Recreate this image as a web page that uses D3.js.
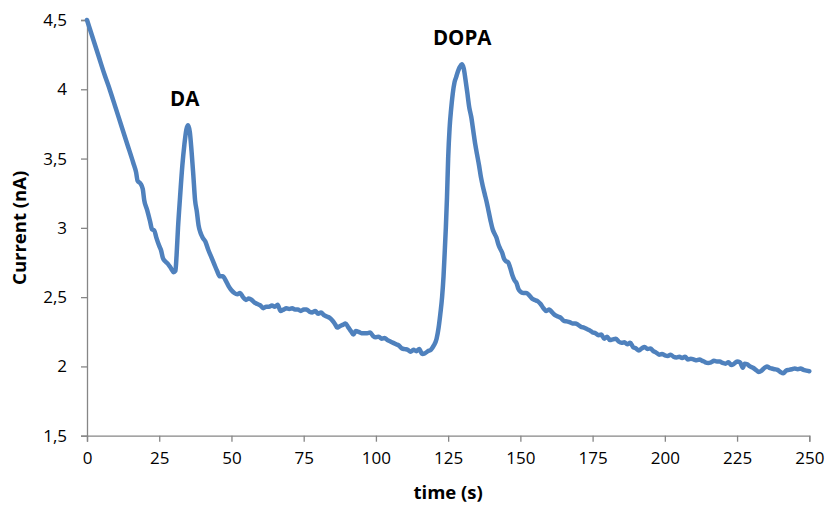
<!DOCTYPE html>
<html>
<head>
<meta charset="utf-8">
<script src="https://cdn.jsdelivr.net/npm/d3@7"></script>
<style>
  html, body { margin: 0; padding: 0; background: #fff; }
  svg { display: block; }
  text { font-family: "Open Sans", "Liberation Sans", sans-serif; fill: #000; }
</style>
</head>
<body>
<svg id="chart" width="827" height="505"></svg>
<script>
// ---- data ----
const xTicks = [0, 25, 50, 75, 100, 125, 150, 175, 200, 225, 250];
const yTicks = [1.5, 2, 2.5, 3, 3.5, 4, 4.5];
const yTickLabels = ["1,5", "2", "2,5", "3", "3,5", "4", "4,5"];
const xTitle = "time (s)";
const yTitle = "Current (nA)";
const peakLabels = [
  { name: "DA", t: 34.5, v: 3.74 },
  { name: "DOPA", t: 129.5, v: 4.18 }
];
const time = [
  0,2,4,6,8,10,12,14,16,17,17.5,18.5,19.3,19.8,20.8,21.8,22.5,23.3,24,25,25.6,26.3,27,28,29,30,30.6,31,31.5,32.2,33,33.7,34.4,35,35.6,36.2,36.8,37.4,38,38.6,39.2,40,41,42,43,44,45,46,47,48,49,50,
  51,52,53,54,55,56,57,58,59,60,61,62,63,64,65,66,67,68,69,70,71,72,73,74,75,76,77,78,79,80,81,82,83,84,85,86,86.5,87.5,88.5,89.5,90.5,91.5,92.2,93,94,95,96,97,98,99,100,
  101,102,103,104,105,106,107,108,109,110,111,112,113,114,115,116,117,118,119,120,121,121.7,122.3,122.9,123.4,123.8,124.2,124.6,125,125.5,126,126.6,127.2,127.8,128.4,129,129.7,130.4,131,131.6,132.3,133,133.7,134.4,135,135.7,136.4,137,137.7,138.4,139,139.7,140.4,141,141.7,142.4,143,143.7,144.3,145,145.8,146.5,147.2,148,148.7,149.3,150,
  151,152,153,154,155,156,157,158,159,160,161,162,163,164,165,166,167,168,169,170,171,172,173,174,175,176,177,178,179,180,181,182,183,184,185,186,187,188,189,190,191,192,193,194,195,196,197,198,199,200,
  201,202,203,204,205,206,207,208,209,210,211,212,213,214,215,216,217,218,219,220,221,222,223,224,225,226,227,227.6,228.5,229.5,230.5,231.5,232.5,233.5,234.5,235.3,236.2,237,238,239,240,241,242,243,244,245,246,247,248,249,250
];
const current = [
  4.5,4.37,4.24,4.11,3.99,3.86,3.73,3.6,3.47,3.40,3.34,3.32,3.28,3.2,3.13,3.05,2.99,2.98,2.93,2.87,2.84,2.78,2.76,2.74,2.71,2.68,2.69,2.8,3.0,3.22,3.45,3.6,3.71,3.74,3.69,3.55,3.38,3.2,3.12,3.02,2.97,2.93,2.9,2.84,2.79,2.74,2.69,2.65,2.65,2.62,2.58,2.55,
  2.53,2.52,2.53,2.5,2.48,2.49,2.48,2.46,2.45,2.44,2.42,2.43,2.43,2.44,2.43,2.445,2.4,2.41,2.42,2.415,2.42,2.41,2.41,2.4,2.41,2.41,2.395,2.39,2.4,2.38,2.39,2.37,2.36,2.35,2.33,2.3,2.28,2.29,2.3,2.31,2.28,2.25,2.23,2.255,2.25,2.24,2.24,2.24,2.245,2.22,2.21,
  2.215,2.2,2.205,2.19,2.18,2.17,2.16,2.15,2.13,2.125,2.12,2.105,2.12,2.11,2.125,2.09,2.095,2.11,2.12,2.15,2.2,2.28,2.38,2.5,2.65,2.82,3.0,3.22,3.5,3.72,3.85,3.97,4.05,4.09,4.13,4.16,4.18,4.15,4.07,3.98,3.87,3.8,3.7,3.6,3.53,3.45,3.36,3.3,3.24,3.18,3.12,3.05,2.99,2.96,2.93,2.88,2.85,2.82,2.78,2.76,2.75,2.71,2.66,2.62,2.6,2.56,2.54,
  2.53,2.53,2.515,2.49,2.48,2.47,2.45,2.42,2.4,2.41,2.39,2.37,2.36,2.35,2.33,2.325,2.32,2.31,2.31,2.3,2.285,2.28,2.27,2.26,2.245,2.24,2.225,2.23,2.2,2.215,2.19,2.195,2.2,2.18,2.17,2.175,2.16,2.17,2.14,2.13,2.115,2.13,2.14,2.125,2.13,2.11,2.1,2.085,2.09,2.08,
  2.075,2.085,2.07,2.065,2.07,2.06,2.07,2.05,2.055,2.05,2.045,2.05,2.04,2.03,2.025,2.03,2.04,2.035,2.035,2.025,2.02,2.03,2.01,2.02,2.035,2.03,1.99,2.02,2.015,2.0,1.99,1.975,1.96,1.97,1.99,2.0,1.99,1.985,1.98,1.975,1.96,1.95,1.97,1.975,1.98,1.985,1.98,1.985,1.975,1.97,1.965
];

// ---- chart ----
const svg = d3.select("#chart");
const x = d3.scaleLinear().domain([0, 250]).range([87, 809.3]);
const y = d3.scaleLinear().domain([1.5, 4.5]).range([435.7, 20]);
const axisColor = "#868686";

// x axis
const gx = svg.append("g")
  .attr("transform", `translate(0,${y(1.5)})`)
  .call(d3.axisBottom(x).tickValues(xTicks).tickSize(6).tickPadding(10).tickFormat(d3.format("d")));
gx.select(".domain").attr("stroke", axisColor).attr("stroke-width", 1.3);
gx.selectAll(".tick line").attr("stroke", axisColor).attr("stroke-width", 1.3);
gx.selectAll(".tick text").attr("font-size", 17).attr("font-family", "Open Sans, sans-serif").attr("fill", "#000");

// y axis
const gy = svg.append("g")
  .attr("transform", `translate(${x(0)},0)`)
  .call(d3.axisLeft(y).tickValues(yTicks).tickSize(6).tickPadding(14)
    .tickFormat((d, i) => yTickLabels[i]));
gy.select(".domain").attr("stroke", axisColor).attr("stroke-width", 1.3);
gy.selectAll(".tick line").attr("stroke", axisColor).attr("stroke-width", 1.3);
gy.selectAll(".tick text").attr("font-size", 17).attr("font-family", "Open Sans, sans-serif").attr("fill", "#000");

// titles
svg.append("text")
  .attr("x", (x(0) + x(250)) / 2)
  .attr("y", 499)
  .attr("text-anchor", "middle")
  .attr("font-size", 18.5)
  .attr("font-weight", "bold")
  .text(xTitle);

svg.append("text")
  .attr("transform", `translate(26,${(y(1.5) + y(4.5)) / 2}) rotate(-90)`)
  .attr("text-anchor", "middle")
  .attr("font-size", 18.5)
  .attr("font-weight", "bold")
  .text(yTitle);

// line
const data = time.map((t, i) => ({ t, v: current[i] }));
const line = d3.line().x(d => x(d.t)).y(d => y(d.v)).curve(d3.curveMonotoneX);
svg.append("path")
  .datum(data)
  .attr("fill", "none")
  .attr("stroke", "#4F81BD")
  .attr("stroke-width", 4.5)
  .attr("stroke-linejoin", "round")
  .attr("stroke-linecap", "round")
  .attr("d", line);

// peak labels
svg.selectAll(".peak")
  .data(peakLabels)
  .enter().append("text")
  .attr("class", "peak")
  .attr("x", d => x(d.t) + (d.name === "DA" ? -2 : 1))
  .attr("y", d => y(d.v) - 19)
  .attr("text-anchor", "middle")
  .attr("font-size", 20.5)
  .attr("font-weight", "bold")
  .text(d => d.name);
</script>
</body>
</html>
